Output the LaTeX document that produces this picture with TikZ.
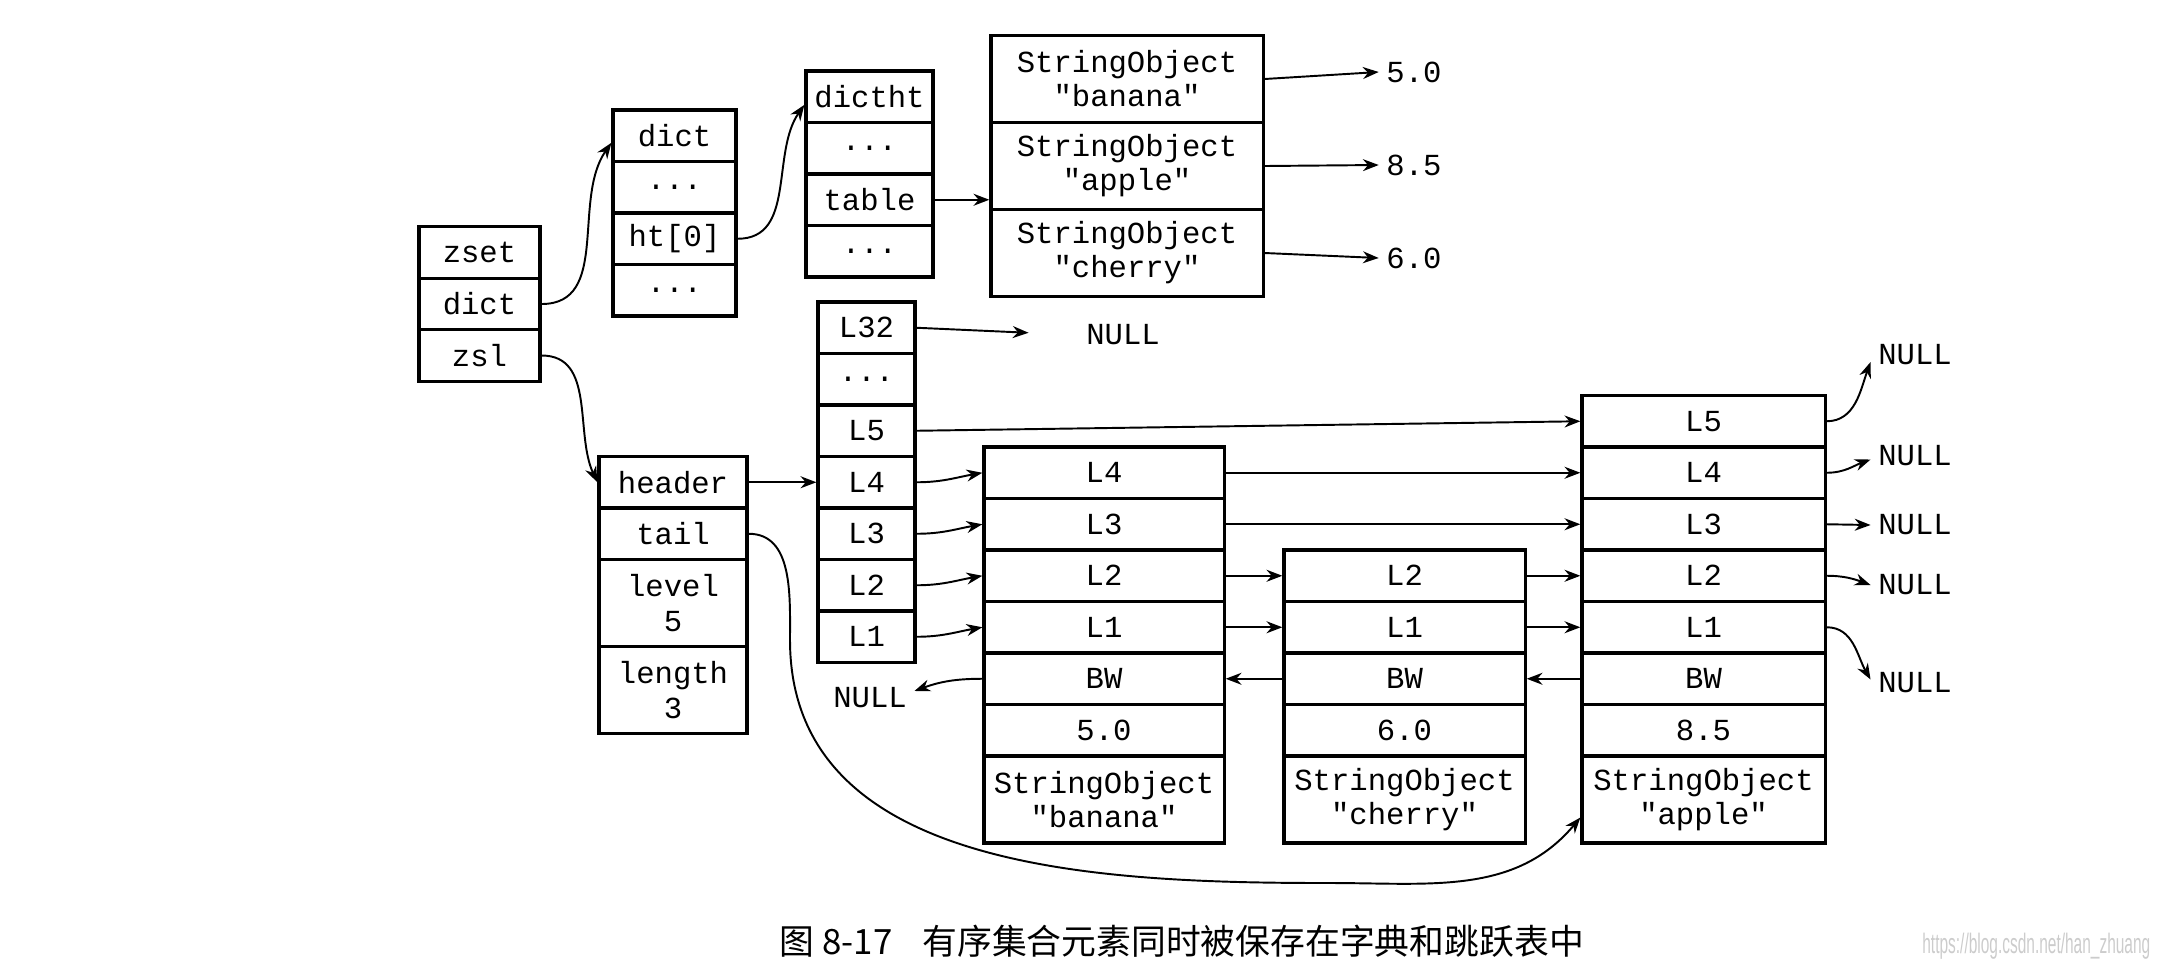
\documentclass[tikz,border=0pt]{standalone}
\usepackage{fontspec}
\newfontfamily\cellfont{Liberation Mono}
\newfontfamily\cjk{Noto Sans CJK SC}
\newfontfamily\wmfont[FakeStretch=0.55]{Liberation Sans}
\usetikzlibrary{arrows.meta}

\begin{document}
\begin{tikzpicture}[x=0.01cm, y=-0.01cm,
    cell/.style={draw, line width=0.9pt, minimum width=#1, minimum height=0.515cm, inner sep=0pt, align=center, font=\cellfont\fontsize{8.7}{9.7}\selectfont},
    tall/.style={minimum height=0.87cm},
    txt/.style={inner sep=2pt, font=\cellfont\fontsize{8.7}{9.7}\selectfont},
    ptr/.style={-{Stealth[length=4.5pt, width=3.4pt]}, line width=0.55pt}]
  \useasboundingbox (0,0) rectangle (2158,966);
  \node[cell=1.21cm] (zs) at (479.5, 252.5) {zset};
  \node[cell=1.21cm] (zd) at (479.5, 304) {dict};
  \node[cell=1.21cm] (zl) at (479.5, 355.5) {zsl};
  \node[cell=1.23cm] (d1) at (674.5, 135.75) {dict};
  \node[cell=1.23cm] (d2) at (674.5, 187.25) {...};
  \node[cell=1.23cm] (d3) at (674.5, 238.75) {ht[0]};
  \node[cell=1.23cm] (d4) at (674.5, 290.25) {...};
  \node[cell=1.27cm] (t1) at (869.5, 96.75) {dictht};
  \node[cell=1.27cm] (t2) at (869.5, 148.25) {...};
  \node[cell=1.27cm] (t3) at (869.5, 199.75) {table};
  \node[cell=1.27cm] (t4) at (869.5, 251.25) {...};
  \node[cell=2.72cm, tall] (so1) at (1127, 79) {StringObject\\"banana"};
  \node[cell=2.72cm, tall] (so2) at (1127, 166) {StringObject\\"apple"};
  \node[cell=2.72cm, tall] (so3) at (1127, 253) {StringObject\\"cherry"};
  \node[txt] (v1) at (1414, 72) {5.0};
  \node[txt] (v2) at (1414, 165) {8.5};
  \node[txt] (v3) at (1414, 258) {6.0};
  \node[cell=0.97cm] (h32) at (866.5, 327.75) {L32};
  \node[cell=0.97cm] (hdots) at (866.5, 379.25) {...};
  \node[cell=0.97cm] (h5) at (866.5, 430.75) {L5};
  \node[cell=0.97cm] (h4) at (866.5, 482.25) {L4};
  \node[cell=0.97cm] (h3) at (866.5, 533.75) {L3};
  \node[cell=0.97cm] (h2) at (866.5, 585.25) {L2};
  \node[cell=0.97cm] (h1) at (866.5, 636.75) {L1};
  \node[txt] (null32) at (1123, 335) {NULL};
  \node[cell=1.48cm] (hdr) at (673, 482.25) {header};
  \node[cell=1.48cm] (tail) at (673, 533.75) {tail};
  \node[cell=1.48cm, tall] (lvl) at (673, 603) {level\\5};
  \node[cell=1.48cm, tall] (len) at (673, 690) {length\\3};
  \node[cell=2.40cm] (b4) at (1104, 472.75) {L4};
  \node[cell=2.40cm] (b3) at (1104, 524.25) {L3};
  \node[cell=2.40cm] (b2) at (1104, 575.75) {L2};
  \node[cell=2.40cm] (b1) at (1104, 627.25) {L1};
  \node[cell=2.40cm] (bbw) at (1104, 678.75) {BW};
  \node[cell=2.40cm] (bsc) at (1104, 730.25) {5.0};
  \node[cell=2.40cm, tall] (bobj) at (1104, 799.5) {StringObject\\"banana"};
  \node[cell=2.41cm] (c2) at (1404.5, 575.75) {L2};
  \node[cell=2.41cm] (c1) at (1404.5, 627.25) {L1};
  \node[cell=2.41cm] (cbw) at (1404.5, 678.75) {BW};
  \node[cell=2.41cm] (csc) at (1404.5, 730.25) {6.0};
  \node[cell=2.41cm, tall] (cobj) at (1404.5, 799.5) {StringObject\\"cherry"};
  \node[cell=2.43cm] (a5) at (1703.5, 421.25) {L5};
  \node[cell=2.43cm] (a4) at (1703.5, 472.75) {L4};
  \node[cell=2.43cm] (a3) at (1703.5, 524.25) {L3};
  \node[cell=2.43cm] (a2) at (1703.5, 575.75) {L2};
  \node[cell=2.43cm] (a1) at (1703.5, 627.25) {L1};
  \node[cell=2.43cm] (abw) at (1703.5, 678.75) {BW};
  \node[cell=2.43cm] (asc) at (1703.5, 730.25) {8.5};
  \node[cell=2.43cm, tall] (aobj) at (1703.5, 799.5) {StringObject\\"apple"};
  \node[txt] (nullbw) at (870, 698) {NULL};
  \node[txt] (n5) at (1915, 355) {NULL};
  \node[txt] (n4) at (1915, 456) {NULL};
  \node[txt] (n3) at (1915, 525) {NULL};
  \node[txt] (n2) at (1915, 585) {NULL};
  \node[txt] (n1) at (1915, 683) {NULL};
  \coordinate (tailbend) at (790, 640);
  \coordinate (tailbot) at (1330, 883);
  \draw[ptr] (zd.east) to[out=0, in=235] ([yshift=-2pt]d1.west);
  \draw[ptr] (d3.east) to[out=0, in=235] ([yshift=-2.3pt]t1.west);
  \draw[ptr] (t3.east) -- (t3.east -| so2.west);
  \draw[ptr] (so1.east) -- (v1.west);
  \draw[ptr] (so2.east) -- (v2.west);
  \draw[ptr] (so3.east) -- (v3.west);
  \draw[ptr] (zl.east) to[out=0, in=115] (hdr.west);
  \draw[ptr] (hdr.east) -- (h4.west);
  \draw[ptr, shorten >=0.5cm] (h32.east) -- (null32.west);
  \draw[ptr] (h5.east) -- (a5.west);
  \draw[ptr] (h4.east) to[out=0, in=190] (b4.west);
  \draw[ptr] (h3.east) to[out=0, in=190] (b3.west);
  \draw[ptr] (h2.east) to[out=0, in=190] (b2.west);
  \draw[ptr] (h1.east) to[out=0, in=190] (b1.west);
  \draw[ptr] (b4.east) -- (a4.west);
  \draw[ptr] (b3.east) -- (a3.west);
  \draw[ptr] (b2.east) -- (c2.west);
  \draw[ptr] (b1.east) -- (c1.west);
  \draw[ptr] (c2.east) -- (a2.west);
  \draw[ptr] (c1.east) -- (a1.west);
  \draw[ptr] (abw.west) -- (cbw.east);
  \draw[ptr] (cbw.west) -- (bbw.east);
  \draw[ptr] (bbw.west) to[out=180, in=20] ([yshift=2pt]nullbw.east);
  \draw[ptr] (a5.east) to[out=0, in=250] ([yshift=-2pt]n5.west);
  \draw[ptr] (a4.east) to[out=0, in=200] ([yshift=-1pt]n4.west);
  \draw[ptr] (a3.east) -- (n3.west);
  \draw[ptr] (a2.east) to[out=0, in=160] (n2.west);
  \draw[ptr] (a1.east) to[out=0, in=120] ([yshift=1pt]n1.west);
  \draw[ptr] (tail.east) to[out=0, in=90] (tailbend) to[out=-90, in=180] (tailbot) to[out=0, in=230] ([yshift=-0.18cm]aobj.west);
  \node[anchor=west, inner sep=0pt, font=\cjk\fontsize{9.9}{12}\selectfont] (cap) at (779, 941) {图 8-17\hspace{0.3cm}有序集合元素同时被保存在字典和跳跃表中};
  \node[anchor=east, inner sep=0pt, text=gray!40, font=\wmfont\fontsize{8}{9}\selectfont] (wm) at (2151, 946) {https://blog.csdn.net/han\_zhuang};
\end{tikzpicture}
\end{document}
